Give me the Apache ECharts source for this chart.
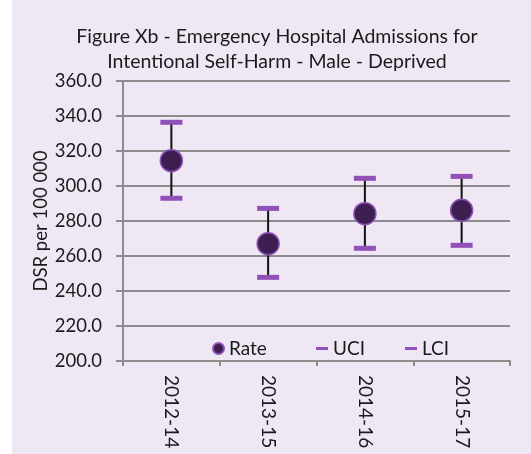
<!DOCTYPE html>
<html>
<head>
<meta charset="utf-8">
<script src="https://cdn.jsdelivr.net/npm/echarts@6/dist/echarts.min.js"></script>
<style>
  html, body { margin: 0; padding: 0; background: #ffffff; }
  #chart { position: absolute; left: 12px; top: 0; width: 519px; height: 454px; }
</style>
</head>
<body>
<div id="chart"></div>
<script>
const periods = ['2012-14', '2013-15', '2014-16', '2015-17'];
const rate = [314.5, 267.0, 284.2, 286.1];
const uci = [336.4, 287.2, 304.4, 305.5];
const lci = [293.0, 247.8, 264.4, 266.1];

const font = 'Lato, "Liberation Sans", sans-serif';
const gridColor = '#8c8c8c';
const capColor = '#9151b9';

var myChart = echarts.init(document.getElementById('chart'));

const option = {
  backgroundColor: '#efe7f4',
  animation: false,
  title: {
    text: 'Figure Xb - Emergency Hospital Admissions for\nIntentional Self-Harm - Male - Deprived',
    left: 265,
    top: 24,
    padding: 0,
    textAlign: 'center',
    textStyle: {
      fontFamily: font,
      fontSize: 19.5,
      fontWeight: 'normal',
      color: '#1a1a1a',
      lineHeight: 25
    }
  },
  legend: [
    {
      data: ['Rate'],
      left: 195,
      top: 334,
      icon: 'circle',
      itemWidth: 11,
      itemHeight: 11,
      itemGap: 6,
      textStyle: { fontFamily: font, fontSize: 19, color: '#1a1a1a' }
    },
    {
      data: ['UCI', 'LCI'],
      left: 299,
      top: 334,
      icon: 'rect',
      itemWidth: 12,
      itemHeight: 3,
      itemGap: 40,
      textStyle: { fontFamily: font, fontSize: 19, color: '#1a1a1a' }
    }
  ],
  grid: {
    left: 111,
    right: 21,
    top: 81,
    bottom: 93
  },
  xAxis: {
    type: 'category',
    data: periods,
    boundaryGap: true,
    axisLine: { lineStyle: { color: gridColor, width: 2 } },
    axisTick: { show: true, interval: 0, length: 5, lineStyle: { color: gridColor, width: 2 } },
    axisLabel: {
      rotate: -90,
      interval: 0,
      margin: 14,
      fontFamily: font,
      fontSize: 19,
      color: '#1a1a1a'
    }
  },
  yAxis: {
    type: 'value',
    min: 200,
    max: 360,
    interval: 20,
    name: 'DSR per 100 000',
    nameLocation: 'middle',
    nameGap: 72,
    nameMoveOverlap: false,
    nameTextStyle: { fontFamily: font, fontSize: 18.5, color: '#1a1a1a' },
    axisLine: { show: true, lineStyle: { color: gridColor, width: 2 } },
    axisTick: { show: true, length: 7, lineStyle: { color: gridColor, width: 2 } },
    splitLine: { lineStyle: { color: gridColor, width: 2 } },
    axisLabel: {
      formatter: (v) => v.toFixed(1),
      margin: 21,
      fontFamily: font,
      fontSize: 18.5,
      color: '#1a1a1a'
    }
  },
  series: [
    {
      name: 'range',
      type: 'custom',
      data: periods.map((p, i) => [i, lci[i], uci[i]]),
      renderItem: (params, api) => {
        const lo = api.coord([api.value(0), api.value(1)]);
        const hi = api.coord([api.value(0), api.value(2)]);
        return {
          type: 'line',
          shape: { x1: lo[0], y1: lo[1], x2: hi[0], y2: hi[1] },
          style: { stroke: '#111111', lineWidth: 2 }
        };
      },
      silent: true
    },
    {
      name: 'UCI',
      type: 'scatter',
      data: uci,
      symbol: 'rect',
      symbolSize: [22, 5],
      itemStyle: { color: capColor, opacity: 1 }
    },
    {
      name: 'LCI',
      type: 'scatter',
      data: lci,
      symbol: 'rect',
      symbolSize: [22, 5],
      itemStyle: { color: capColor, opacity: 1 }
    },
    {
      name: 'Rate',
      type: 'scatter',
      data: rate,
      symbol: 'circle',
      symbolSize: 22,
      itemStyle: { color: '#3c1f50', borderColor: '#8d50b5', borderWidth: 1.5, opacity: 1 }
    }
  ]
};

myChart.setOption(option);
</script>
</body>
</html>
